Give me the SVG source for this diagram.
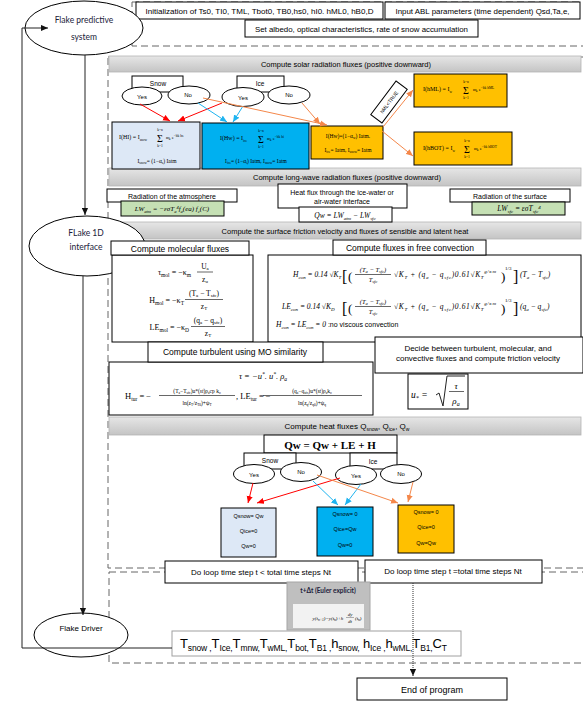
<svg xmlns="http://www.w3.org/2000/svg" width="583" height="711" viewBox="0 0 583 711">
<defs>
<linearGradient id="gbar" x1="0" y1="0" x2="0" y2="1"><stop offset="0" stop-color="#e6e6e6"/><stop offset="1" stop-color="#c4c4c4"/></linearGradient>
<marker id="mk" viewBox="0 0 8 8" markerWidth="7" markerHeight="7" refX="8" refY="4" orient="auto" markerUnits="userSpaceOnUse"><path d="M0,0.5 L8,4 L0,7.5 z" fill="#111"/></marker>
<marker id="mr" viewBox="0 0 8 8" markerWidth="7" markerHeight="7" refX="8" refY="4" orient="auto" markerUnits="userSpaceOnUse"><path d="M0,0.5 L8,4 L0,7.5 z" fill="#ff0000"/></marker>
<marker id="mb" viewBox="0 0 8 8" markerWidth="7" markerHeight="7" refX="8" refY="4" orient="auto" markerUnits="userSpaceOnUse"><path d="M0,0.5 L8,4 L0,7.5 z" fill="#1fb4f0"/></marker>
<marker id="mo" viewBox="0 0 8 8" markerWidth="7" markerHeight="7" refX="8" refY="4" orient="auto" markerUnits="userSpaceOnUse"><path d="M0,0.5 L8,4 L0,7.5 z" fill="#f4874a"/></marker>
</defs>
<style>
.t{font-family:"Liberation Sans",Arial,sans-serif;fill:#000}
.c{text-anchor:middle}
.e{text-anchor:end}
.m{font-family:"Liberation Serif","DejaVu Serif",serif;fill:#000}
.i{font-style:italic}
.lab{font-family:Lato,"Liberation Sans",sans-serif;fill:#1b1b3a}
.bx{fill:#fff;stroke:#000;stroke-width:1}
.bar{fill:url(#gbar);stroke:#b4b4b4;stroke-width:0.8}
.el{fill:#fff;stroke:#000;stroke-width:1}
.dsh{fill:none;stroke:#666;stroke-width:1;stroke-dasharray:7,4}
.lb{fill:#dde8f6;stroke:#000;stroke-width:1}
.cy{fill:#00b0f0;stroke:#000;stroke-width:1}
.or{fill:#ffc000;stroke:#000;stroke-width:1}
.gr{fill:#c5e0b4;stroke:#000;stroke-width:1}
.red{stroke:#ff0000;stroke-width:1;fill:none;marker-end:url(#mr)}
.blu{stroke:#1fb4f0;stroke-width:1;fill:none;marker-end:url(#mb)}
.org{stroke:#f4874a;stroke-width:1;fill:none;marker-end:url(#mo)}
.blk{stroke:#222;stroke-width:1;fill:none;marker-end:url(#mk)}
.ln{stroke:#222;stroke-width:1;fill:none}
.fl{stroke:#000;stroke-width:0.6}
</style>
<rect x="0" y="0" width="583" height="711" fill="#fff"/>

<g id="frames">
<rect class="dsh" x="132" y="2" width="470" height="44"/>
<rect class="dsh" x="108" y="57" width="494" height="511"/>
<rect class="dsh" x="109" y="572" width="493" height="91"/>
</g>

<g id="top-inputs">
<g id="init"><rect class="bx" x="136" y="2" width="247" height="17"/><text class="t c" x="259.5" y="13.5" font-size="7.5" textLength="228" lengthAdjust="spacingAndGlyphs">Initialization of Ts0, TI0, TML, Tbot0, TB0,hs0, hI0. hML0, hB0,D</text></g>
<g id="input-abl"><rect class="bx" x="385" y="2" width="195" height="17"/><text class="t c" x="482.5" y="13.5" font-size="7.5" textLength="174" lengthAdjust="spacingAndGlyphs">Input ABL parameters (time dependent) Qsd,Ta,e,</text></g>
<g id="albedo"><rect class="bx" x="245" y="20" width="233" height="17"/><text class="t c" x="361.5" y="31.5" font-size="7.5" textLength="213" lengthAdjust="spacingAndGlyphs">Set albedo, optical characteristics, rate of snow accumulation</text></g>
</g>

<g id="bars">
<g id="bar-solar"><rect class="bar" x="109" y="56" width="472" height="16"/><text class="t c" x="346" y="66.5" font-size="7.5">Compute solar radiation fluxes (positive downward)</text></g>
<g id="bar-lw"><rect class="bar" x="109" y="168" width="472" height="18"/><text class="t c" x="347" y="179.5" font-size="7.5">Compute long-wave radiation fluxes (positive downward)</text></g>
<g id="bar-fric"><rect class="bar" x="109" y="222" width="472" height="17"/><text class="t c" x="345" y="233.5" font-size="7.5">Compute the surface friction velocity and fluxes of sensible and latent heat</text></g>
<g id="bar-heat"><rect class="bar" x="109" y="417" width="472" height="18"/><text class="t c" x="347" y="429" font-size="8">Compute heat fluxes Q<tspan font-size="5" dy="1.5">snow</tspan><tspan dy="-1.5">, Q</tspan><tspan font-size="5" dy="1.5">ice</tspan><tspan dy="-1.5">, Q</tspan><tspan font-size="5" dy="1.5">w</tspan></text></g>
</g>

<g id="flake-predictive"><ellipse class="el" cx="84" cy="28" rx="59" ry="27"/><text class="lab c" x="84" y="23" font-size="8.5">Flake predictive</text><text class="lab c" x="84" y="40" font-size="8.5">system</text></g>
<g id="flake-1d"><ellipse class="el" cx="87" cy="246" rx="58" ry="30"/><text class="lab c" x="86" y="236" font-size="8.5">FLake 1D</text><text class="lab c" x="86" y="250" font-size="8.5">interface</text></g>
<g id="flake-driver"><ellipse class="el" cx="81" cy="635" rx="47" ry="22"/><text class="t c" x="81" y="631" font-size="8">Flake Driver</text></g>

<g id="solar-snow"><rect class="bx" x="132" y="76" width="51" height="16"/><text class="t c" x="158" y="85.5" font-size="6.5">Snow</text>
<ellipse class="el" cx="142" cy="96" rx="20" ry="9"/><text class="t c" x="142" y="98.5" font-size="6">Yes</text>
<ellipse class="el" cx="189" cy="95" rx="21" ry="9"/><text class="t c" x="188" y="97" font-size="6">No</text></g>
<g id="solar-ice"><rect class="bx" x="237" y="76" width="47" height="16"/><text class="t c" x="260" y="85.5" font-size="6.5">Ice</text>
<ellipse class="el" cx="243" cy="97" rx="21" ry="9.5"/><text class="t c" x="243" y="99.5" font-size="6">Yes</text>
<ellipse class="el" cx="289" cy="95" rx="21" ry="9"/><text class="t c" x="289" y="97" font-size="6">No</text></g>

<g id="solar-hi"><rect class="lb" x="112" y="122" width="88" height="47"/>
<text class="m" x="119" y="139" font-size="6">I(HI) = I<tspan font-size="3.5" dy="1.5">snow</tspan></text>
<text class="m c" x="160" y="142" font-size="10">Σ</text><text class="m c" x="160" y="131" font-size="3.5">k=n</text><text class="m c" x="160" y="147" font-size="3.5">k=1</text>
<text class="m" x="166" y="139" font-size="5">α<tspan font-size="3.5" dy="1">k</tspan><tspan dy="-1"> e</tspan><tspan font-size="3.5" dy="-2.5">−bk hs</tspan></text>
<text class="m c" x="157" y="163" font-size="5.5">I<tspan font-size="3.5" dy="1">snow</tspan><tspan dy="-1">= (1−α</tspan><tspan font-size="3.5" dy="1">s</tspan><tspan dy="-1">) Iatm</tspan></text></g>
<g id="solar-hw"><rect class="cy" x="202" y="123" width="107" height="46"/>
<text class="m" x="220" y="140" font-size="6">I(Hw) = I<tspan font-size="3.5" dy="1.5">ice</tspan></text>
<text class="m c" x="261" y="143" font-size="10">Σ</text><text class="m c" x="261" y="132" font-size="3.5">k=n</text><text class="m c" x="261" y="148" font-size="3.5">k=1</text>
<text class="m" x="267" y="140" font-size="5">α<tspan font-size="3.5" dy="1">k</tspan><tspan dy="-1"> e</tspan><tspan font-size="3.5" dy="-2.5">−bk hi</tspan></text>
<text class="m c" x="256" y="163" font-size="5.5">I<tspan font-size="3.5" dy="1">ice</tspan><tspan dy="-1">= (1−α</tspan><tspan font-size="3.5" dy="1">i</tspan><tspan dy="-1">) Iatm, I</tspan><tspan font-size="3.5" dy="1">snow</tspan><tspan dy="-1">= Iatm</tspan></text></g>
<g id="solar-hw2"><rect class="or" x="311" y="126" width="72" height="33"/>
<text class="m c" x="348" y="137.5" font-size="5.5">I(Hw)=(1−α<tspan font-size="3.5" dy="1">w</tspan><tspan dy="-1">) Iatm.</tspan></text>
<text class="m c" x="348" y="152" font-size="5.5">I<tspan font-size="3.5" dy="1">ice</tspan><tspan dy="-1">= Iatm, I</tspan><tspan font-size="3.5" dy="1">snow</tspan><tspan dy="-1">= Iatm</tspan></text></g>
<g id="solar-hml"><rect class="or" x="414" y="74" width="93" height="33"/>
<text class="m" x="423" y="91" font-size="6">I(hML) = I<tspan font-size="3.5" dy="1.5">w</tspan></text>
<text class="m c" x="466" y="94" font-size="10">Σ</text><text class="m c" x="466" y="83" font-size="3.5">k=n</text><text class="m c" x="466" y="99" font-size="3.5">k=1</text>
<text class="m" x="473" y="91" font-size="5">α<tspan font-size="3.5" dy="1">k</tspan><tspan dy="-1"> e</tspan><tspan font-size="3.5" dy="-2.5">−bk hML</tspan></text></g>
<g id="solar-hbot"><rect class="or" x="414" y="132" width="98" height="33"/>
<text class="m" x="423" y="150" font-size="6">I(hBOT) = I<tspan font-size="3.5" dy="1.5">w</tspan></text>
<text class="m c" x="467" y="153" font-size="10">Σ</text><text class="m c" x="467" y="142" font-size="3.5">k=n</text><text class="m c" x="467" y="158" font-size="3.5">k=1</text>
<text class="m" x="474" y="150" font-size="5">α<tspan font-size="3.5" dy="1">k</tspan><tspan dy="-1"> e</tspan><tspan font-size="3.5" dy="-2.5">−bk hBOT</tspan></text></g>
<g id="hml-cond" transform="translate(389,102) rotate(-53)"><rect class="bx" x="-21" y="-7" width="42" height="14"/><text class="t c" x="0" y="2" font-size="5">hML&lt;TRUE</text></g>

<g id="lw-atm"><rect class="bx" x="107" y="189" width="130" height="13"/><text class="t c" x="172" y="198.5" font-size="7">Radiation of the atmosphere</text>
<rect class="gr" x="121" y="201" width="103" height="15"/><text class="m i c" x="172" y="211" font-size="7">LW<tspan font-size="4.5" dy="1.5">atm</tspan><tspan dy="-1.5"> = −εσT</tspan><tspan font-size="4.5" dy="1.5">a</tspan><tspan font-size="4.5" dy="-4">4</tspan><tspan dy="2.5">f</tspan><tspan font-size="4.5" dy="1.5">a</tspan><tspan dy="-1.5">(ea) f</tspan><tspan font-size="4.5" dy="1.5">c</tspan><tspan dy="-1.5">(C)</tspan></text></g>
<g id="lw-qw"><rect class="bx" x="278" y="184" width="129" height="24"/><text class="t c" x="342" y="194.5" font-size="7">Heat flux through the ice-water or</text><text class="t c" x="342" y="203.5" font-size="7">air-water interface</text>
<rect class="bx" x="299" y="207" width="93" height="15"/><text class="m i c" x="345" y="218" font-size="7.5">Qw = LW<tspan font-size="5" dy="1.5">atm</tspan><tspan dy="-1.5"> − LW</tspan><tspan font-size="5" dy="1.5">sfc</tspan></text></g>
<g id="lw-sfc"><rect class="bx" x="450" y="189" width="120" height="13"/><text class="t c" x="510" y="198.5" font-size="7">Radiation of the surface</text>
<rect class="gr" x="472" y="202" width="93" height="13"/><text class="m i c" x="519" y="211" font-size="7.5">LW<tspan font-size="5" dy="1.5">sfc</tspan><tspan dy="-1.5"> = εσT</tspan><tspan font-size="5" dy="1.5">sfc</tspan><tspan font-size="5" dy="-4">4</tspan></text></g>

<g id="molecular"><rect class="bx" x="112" y="255" width="141" height="87"/><rect class="bx" x="111" y="241" width="138" height="14"/><text class="t c" x="180" y="251.5" font-size="8.5">Compute molecular fluxes</text>
<text class="m e" x="191" y="275" font-size="8">τ<tspan font-size="5.5" dy="1.5">mol</tspan><tspan dy="-1.5"> = −κ</tspan><tspan font-size="5.5" dy="1.5">m</tspan></text>
<text class="m c" x="205" y="268.5" font-size="7.5">U<tspan font-size="5" dy="1">a</tspan></text><line class="fl" x1="197" y1="272" x2="213" y2="272"/><text class="m c" x="205" y="281.5" font-size="7.5">z<tspan font-size="5" dy="1">u</tspan></text>
<text class="m e" x="184" y="303" font-size="8">H<tspan font-size="5.5" dy="1.5">mol</tspan><tspan dy="-1.5"> = −κ</tspan><tspan font-size="5.5" dy="1.5">T</tspan></text>
<text class="m c" x="204" y="296" font-size="7.5">(T<tspan font-size="5" dy="1">a</tspan><tspan dy="-1"> − T</tspan><tspan font-size="5" dy="1">sfc</tspan><tspan dy="-1">)</tspan></text><line class="fl" x1="185" y1="299.5" x2="223" y2="299.5"/><text class="m c" x="204" y="309" font-size="7.5">z<tspan font-size="5" dy="1">T</tspan></text>
<text class="m e" x="189" y="330" font-size="8">LE<tspan font-size="5.5" dy="1.5">mol</tspan><tspan dy="-1.5"> = −κ</tspan><tspan font-size="5.5" dy="1.5">D</tspan></text>
<text class="m c" x="208" y="323" font-size="7.5">(q<tspan font-size="5" dy="1">a</tspan><tspan dy="-1"> − q</tspan><tspan font-size="5" dy="1">sfc</tspan><tspan dy="-1">)</tspan></text><line class="fl" x1="191" y1="326.5" x2="225" y2="326.5"/><text class="m c" x="208" y="336" font-size="7.5">z<tspan font-size="5" dy="1">T</tspan></text></g>

<g id="convection"><rect class="bx" x="268" y="255" width="313" height="87"/><rect class="bx" x="333" y="240" width="153" height="15"/><text class="t c" x="410" y="251" font-size="8.5">Compute fluxes in free convection</text>
<text class="m i" x="293" y="277" font-size="7.5">H<tspan font-size="5" dy="1.5">con</tspan><tspan dy="-1.5"> = 0.14 √K</tspan><tspan font-size="5" dy="1.5">T</tspan></text>
<text class="m" x="342" y="281.5" font-size="16">[</text><text class="m" x="348" y="280.5" font-size="13">(</text>
<text class="m i c" x="373" y="271.5" font-size="6.5">(T<tspan font-size="4.5" dy="1">a</tspan><tspan dy="-1"> − T</tspan><tspan font-size="4.5" dy="1">sfc</tspan><tspan dy="-1">)</tspan></text><line class="fl" x1="355" y1="274.5" x2="391" y2="274.5"/><text class="m i c" x="373" y="282" font-size="6.5">T<tspan font-size="4.5" dy="1">sfc</tspan></text>
<text class="m i" x="394" y="277" font-size="7.5" textLength="102" lengthAdjust="spacing">√K<tspan font-size="5" dy="1.5">T</tspan><tspan dy="-1.5"> + (q</tspan><tspan font-size="5" dy="1.5">a</tspan><tspan dy="-1.5"> − q</tspan><tspan font-size="5" dy="1.5">sfc</tspan><tspan dy="-1.5">)0.61√K</tspan><tspan font-size="5" dy="1.5">T</tspan><tspan font-size="5" dy="-5.5">g/κm</tspan></text>
<text class="m" x="501" y="280.5" font-size="13">)</text><text class="m" x="505" y="270" font-size="5">1/3</text><text class="m" x="513" y="281.5" font-size="16">]</text>
<text class="m i" x="520" y="277" font-size="7.5">(T<tspan font-size="5" dy="1.5">a</tspan><tspan dy="-1.5"> − T</tspan><tspan font-size="5" dy="1.5">sfc</tspan><tspan dy="-1.5">)</tspan></text>
<text class="m i" x="282" y="309" font-size="7.5">LE<tspan font-size="5" dy="1.5">con</tspan><tspan dy="-1.5"> = 0.14 √K</tspan><tspan font-size="5" dy="1.5">D</tspan></text>
<text class="m" x="342" y="313.5" font-size="16">[</text><text class="m" x="348" y="312.5" font-size="13">(</text>
<text class="m i c" x="373" y="303.5" font-size="6.5">(T<tspan font-size="4.5" dy="1">a</tspan><tspan dy="-1"> − T</tspan><tspan font-size="4.5" dy="1">sfc</tspan><tspan dy="-1">)</tspan></text><line class="fl" x1="355" y1="306.5" x2="391" y2="306.5"/><text class="m i c" x="373" y="314" font-size="6.5">T<tspan font-size="4.5" dy="1">sfc</tspan></text>
<text class="m i" x="394" y="309" font-size="7.5" textLength="102" lengthAdjust="spacing">√K<tspan font-size="5" dy="1.5">T</tspan><tspan dy="-1.5"> + (q</tspan><tspan font-size="5" dy="1.5">a</tspan><tspan dy="-1.5"> − q</tspan><tspan font-size="5" dy="1.5">sfc</tspan><tspan dy="-1.5">)0.61√K</tspan><tspan font-size="5" dy="1.5">T</tspan><tspan font-size="5" dy="-5.5">g/κm</tspan></text>
<text class="m" x="501" y="312.5" font-size="13">)</text><text class="m" x="505" y="302" font-size="5">1/3</text><text class="m" x="513" y="313.5" font-size="16">]</text>
<text class="m i" x="520" y="309" font-size="7.5">(q<tspan font-size="5" dy="1.5">a</tspan><tspan dy="-1.5"> − q</tspan><tspan font-size="5" dy="1.5">sfc</tspan><tspan dy="-1.5">)</tspan></text>
<text class="m i" x="276" y="327" font-size="7.5">H<tspan font-size="5" dy="1.5">con</tspan><tspan dy="-1.5"> = LE</tspan><tspan font-size="5" dy="1.5">con</tspan><tspan dy="-1.5"> = 0 </tspan><tspan class="t" font-style="normal" font-size="7">:no viscous convection</tspan></text></g>

<g id="decide"><rect class="bx" x="375" y="337" width="208" height="36"/><text class="t c" x="478" y="351" font-size="8">Decide between turbulent, molecular, and</text><text class="t c" x="478" y="361" font-size="8">convective fluxes and compute friction velocity</text></g>
<g id="ustar"><rect class="bx" x="408" y="374" width="60" height="35"/><text class="m i" x="411" y="398" font-size="9.5">u<tspan font-size="6" dy="1.5">*</tspan><tspan dy="-1.5"> =</tspan></text>
<path class="ln" d="M436,395 L439,393 L443,406 L447,376 L465,376"/><text class="m i c" x="456" y="389" font-size="9">τ</text><line class="fl" x1="449" y1="391.5" x2="464" y2="391.5"/><text class="m i c" x="456" y="404" font-size="9">ρ<tspan font-size="6" dy="1.5">a</tspan></text></g>

<g id="turbulent"><rect class="bx" x="109" y="362" width="264" height="53"/><rect class="bx" x="148" y="342" width="175" height="20"/><text class="t c" x="235" y="355" font-size="8.5">Compute turbulent using MO similarity</text>
<text class="m i c" x="263" y="379" font-size="8.5">τ = −u<tspan font-size="5.5" dy="-3">*</tspan><tspan dy="3">. u</tspan><tspan font-size="5.5" dy="-3">*</tspan><tspan dy="3">. ρ</tspan><tspan font-size="5.5" dy="1.5">a</tspan></text>
<text class="m" x="125" y="399" font-size="8.5">H<tspan font-size="5.5" dy="1.5">tur</tspan><tspan dy="-1.5"> = −</tspan></text>
<text class="m c" x="197" y="393" font-size="5.5">(T<tspan font-size="3.5" dy="1">a</tspan><tspan dy="-1">−T</tspan><tspan font-size="3.5" dy="1">sfc</tspan><tspan dy="-1">)u*(</tspan><tspan font-style="italic">st</tspan><tspan>)ρ</tspan><tspan font-size="3.5" dy="1">a</tspan><tspan dy="-1">cp k</tspan><tspan font-size="3.5" dy="1">o</tspan></text>
<line class="fl" x1="159" y1="395.5" x2="235" y2="395.5"/>
<text class="m c" x="197" y="405" font-size="5.5">ln(z<tspan font-size="3.5" dy="1">T</tspan><tspan dy="-1">/z</tspan><tspan font-size="3.5" dy="1">T0</tspan><tspan dy="-1">)+ψ</tspan><tspan font-size="3.5" dy="1">T</tspan></text>
<text class="m" x="236" y="399" font-size="8.5">, LE<tspan font-size="5.5" dy="1.5">tur</tspan><tspan dy="-1.5"> = −</tspan></text>
<text class="m c" x="312" y="393" font-size="5.5">(q<tspan font-size="3.5" dy="1">a</tspan><tspan dy="-1">−q</tspan><tspan font-size="3.5" dy="1">sfc</tspan><tspan dy="-1">)u*(</tspan><tspan font-style="italic">st</tspan><tspan>)ρ</tspan><tspan font-size="3.5" dy="1">a</tspan><tspan dy="-1">k</tspan><tspan font-size="3.5" dy="1">o</tspan></text>
<line class="fl" x1="263" y1="395.5" x2="362" y2="395.5"/>
<text class="m c" x="312" y="405" font-size="5.5">ln(z<tspan font-size="3.5" dy="1">q</tspan><tspan dy="-1">/z</tspan><tspan font-size="3.5" dy="1">q0</tspan><tspan dy="-1">)+ψ</tspan><tspan font-size="3.5" dy="1">q</tspan></text></g>

<g id="heat-qw"><rect class="bx" x="264" y="435" width="133" height="18"/><text class="m c" x="330" y="448.5" font-size="11" font-weight="bold">Qw = Qw + LE + H</text></g>
<g id="heat-snow"><rect class="bx" x="244" y="453" width="52" height="16"/><text class="t c" x="270" y="463" font-size="6.5">Snow</text>
<ellipse class="el" cx="254" cy="474" rx="20.5" ry="9.5"/><text class="t c" x="254" y="476.5" font-size="6">Yes</text>
<ellipse class="el" cx="301" cy="472" rx="20.5" ry="9.5"/><text class="t c" x="301" y="474" font-size="6">No</text></g>
<g id="heat-ice"><rect class="bx" x="350" y="453" width="47" height="16"/><text class="t c" x="373" y="464" font-size="6.5">Ice</text>
<ellipse class="el" cx="356" cy="475" rx="20.5" ry="9.5"/><text class="t c" x="356" y="477.5" font-size="6">Yes</text>
<ellipse class="el" cx="401" cy="474" rx="20.5" ry="9.5"/><text class="t c" x="401" y="476" font-size="6">No</text></g>
<g id="heat-r1"><rect class="lb" x="221" y="508" width="55" height="49"/><text class="t c" x="248.5" y="518" font-size="5.5">Qsnow= Qw</text><text class="t c" x="248.5" y="533" font-size="5.5">Qice=0</text><text class="t c" x="248.5" y="548" font-size="5.5">Qw=0</text></g>
<g id="heat-r2"><rect class="cy" x="317" y="507" width="56" height="49"/><text class="t c" x="345" y="516" font-size="5.5">Qsnow= 0</text><text class="t c" x="345" y="531" font-size="5.5">Qice=Qw</text><text class="t c" x="345" y="547" font-size="5.5">Qw=0</text></g>
<g id="heat-r3"><rect class="or" x="398" y="505" width="56" height="48"/><text class="t c" x="426" y="514" font-size="5.5">Qsnow= 0</text><text class="t c" x="426" y="529" font-size="5.5">Qice=0</text><text class="t c" x="426" y="545" font-size="5.5">Qw=Qw</text></g>

<g id="loop-lt"><rect class="bx" x="165" y="561" width="193" height="22"/><text class="t c" x="261" y="575" font-size="8">Do loop time step t &lt; total time steps Nt</text></g>
<g id="loop-eq"><rect class="bx" x="365" y="560" width="177" height="23"/><text class="t c" x="453" y="573.5" font-size="8">Do loop time step t =total time steps Nt</text></g>
<g id="euler"><rect x="287" y="582" width="83" height="48" fill="#bfbfbf" stroke="#a6a6a6" stroke-width="1"/><text class="lab c" x="328" y="592.5" font-size="6.5" font-weight="bold" fill="#222">t+Δt (Euler explicit)</text>
<rect x="293" y="604" width="71" height="24" fill="#f2f2f2"/><text class="m i c" x="328" y="620" font-size="5" fill="#666">y(t<tspan font-size="3.5" dy="1">n+1</tspan><tspan dy="-1">)=y(t</tspan><tspan font-size="3.5" dy="1">n</tspan><tspan dy="-1">)+h</tspan></text><text class="m i c" x="350" y="616" font-size="5" fill="#666">dy</text><line x1="346" y1="617.5" x2="354" y2="617.5" stroke="#666" stroke-width="0.5"/><text class="m i c" x="350" y="623" font-size="5" fill="#666">dt</text><text class="m i" x="355" y="620" font-size="5" fill="#666">(t<tspan font-size="3.5" dy="1">n</tspan><tspan dy="-1">)</tspan></text></g>
<g id="state-vars"><rect x="172" y="631" width="289" height="25" fill="#fff" stroke="#a0a0a0" stroke-width="1"/><text class="t" x="180" y="648" font-size="13" textLength="267" lengthAdjust="spacing">T<tspan font-size="8.5" dy="3">snow ,</tspan><tspan dy="-3">T</tspan><tspan font-size="8.5" dy="3">Ice,</tspan><tspan dy="-3">T</tspan><tspan font-size="8.5" dy="3">mnw,</tspan><tspan dy="-3">T</tspan><tspan font-size="8.5" dy="3">wML,</tspan><tspan dy="-3">T</tspan><tspan font-size="8.5" dy="3">bot,</tspan><tspan dy="-3">T</tspan><tspan font-size="8.5" dy="3">B1 ,</tspan><tspan dy="-3">h</tspan><tspan font-size="8.5" dy="3">snow,</tspan><tspan dy="-3"> h</tspan><tspan font-size="8.5" dy="3">Ice ,</tspan><tspan dy="-3">h</tspan><tspan font-size="8.5" dy="3">wML,</tspan><tspan dy="-3">T</tspan><tspan font-size="8.5" dy="3">B1,</tspan><tspan dy="-3">C</tspan><tspan font-size="8.5" dy="3">T</tspan></text></g>
<g id="end"><rect class="bx" x="357" y="678" width="150" height="22"/><text class="t c" x="432" y="692.5" font-size="9">End of program</text></g>

<g id="connectors">
<path class="blk" d="M22,648 L22,28 L48,28"/>
<line class="ln" x1="22" y1="648" x2="172" y2="648"/>
<line class="blk" x1="85" y1="55" x2="85" y2="215"/>
<line class="blk" x1="83" y1="276" x2="83" y2="615"/>
<line x1="413" y1="583" x2="413" y2="676" stroke="#333" stroke-width="1" stroke-dasharray="1,1" marker-end="url(#mk)"/>
<line class="red" x1="140" y1="104" x2="170" y2="121"/>
<line class="red" x1="222" y1="103" x2="178" y2="121"/>
<line class="blu" x1="198" y1="103" x2="227" y2="122"/>
<line class="blu" x1="243" y1="106" x2="233" y2="122"/>
<line class="org" x1="203" y1="98" x2="327" y2="125"/>
<line class="org" x1="302" y1="103" x2="320" y2="124"/>
<line class="org" x1="383" y1="127" x2="413" y2="90"/>
<line class="org" x1="382" y1="131" x2="413" y2="156"/>
<line class="red" x1="253" y1="483" x2="248" y2="503"/>
<line class="red" x1="340" y1="478" x2="257" y2="503"/>
<line class="blu" x1="313" y1="481" x2="338" y2="505"/>
<line class="blu" x1="361" y1="484" x2="345" y2="505"/>
<line class="org" x1="317" y1="475" x2="398" y2="503"/>
<line class="org" x1="413" y1="482" x2="408" y2="502"/>
</g>
</svg>
